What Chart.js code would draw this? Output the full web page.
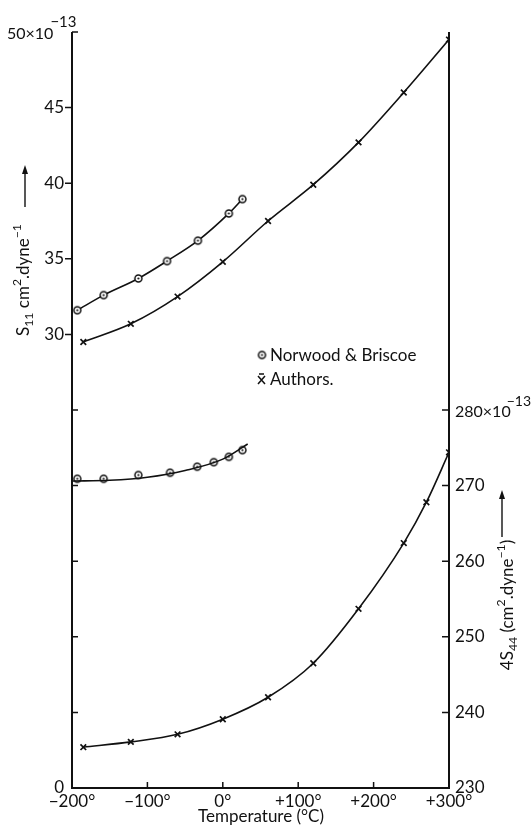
<!DOCTYPE html>
<html>
<head>
<meta charset="utf-8">
<script src="https://cdn.jsdelivr.net/npm/chart.js@4/dist/chart.umd.min.js"></script>
<style>
  html, body { margin: 0; background: #fff; }
</style>
</head>
<body>
<canvas id="chart" width="531" height="833"></canvas>
<script>
// readings
const nbS11Temp = [-193, -158, -112, -74, -33, 8, 26];
const nbS11Val  = [31.6, 32.6, 33.7, 34.85, 36.2, 38.0, 38.95];
const auS11Temp = [-185, -122, -60, 0, 60, 120, 180, 240, 300];
const auS11Val  = [29.5, 30.7, 32.5, 34.8, 37.5, 39.9, 42.7, 46.0, 49.5];
const nbS44Temp = [-193, -158, -112, -70, -34, -12, 8, 26];
const nbS44Val  = [270.9, 270.9, 271.4, 271.7, 272.5, 273.1, 273.8, 274.7];
const nbS44CurveTemp = [-200, -150, -100, -50, 0, 33];
const nbS44CurveVal  = [270.6, 270.7, 271.1, 272.0, 273.5, 275.5];
const auS44Temp = [-185, -122, -60, 0, 60, 120, 180, 240, 270, 300];
const auS44Val  = [235.4, 236.1, 237.1, 239.1, 242.0, 246.5, 253.7, 262.4, 267.8, 274.4];

const xTicks = [-200, -100, 0, 100, 200, 300];
const xTickLabels = ['−200°', '−100°', '0°', '+100°', '+200°', '+300°'];
const s11Labels = [0, 30, 35, 40, 45];
const s44Labels = [230, 240, 250, 260, 270];

const FONT = 'Lato, "Open Sans", sans-serif';
const INK = '#111';

function pts(xs, ys) { return xs.map((x, i) => ({ x: x, y: ys[i] })); }

// dotted circle marker
function dotCircle() {
  const c = document.createElement('canvas');
  c.width = c.height = 11;
  const g = c.getContext('2d');
  g.strokeStyle = INK; g.lineWidth = 1.5; g.fillStyle = '#fff';
  g.beginPath(); g.arc(5.5, 5.5, 3.5, 0, Math.PI * 2); g.fill(); g.stroke();
  g.fillStyle = INK;
  g.beginPath(); g.arc(5.5, 5.5, 1.1, 0, Math.PI * 2); g.fill();
  return c;
}
const circ = dotCircle();

// text with sub/superscripts, drawn left to right from x
function rich(ctx, parts, x, y, size, measureOnly) {
  let w = 0;
  parts.forEach(p => {
    const s = p.s ? size * 0.72 : size;
    ctx.font = s + 'px ' + FONT;
    const dy = p.s === 'sub' ? size * 0.28 : (p.s === 'sup' ? -size * 0.38 : 0);
    if (!measureOnly) ctx.fillText(p.t, x + w, y + dy);
    w += ctx.measureText(p.t).width;
  });
  return w;
}

function arrowUp(ctx, x, y0, y1) {
  ctx.beginPath(); ctx.moveTo(x, y0); ctx.lineTo(x, y1 + 4); ctx.stroke();
  ctx.beginPath(); ctx.moveTo(x, y1); ctx.lineTo(x - 3, y1 + 9); ctx.lineTo(x + 3, y1 + 9); ctx.closePath(); ctx.fill();
}

const decor = {
  id: 'decor',
  afterDraw(chart) {
    const ctx = chart.ctx;
    const a = chart.chartArea;
    const sx = chart.scales.x, sy = chart.scales.y, sy2 = chart.scales.y2;
    ctx.save();
    ctx.strokeStyle = INK; ctx.fillStyle = INK;
    // axes
    ctx.lineWidth = 2;
    ctx.beginPath();
    ctx.moveTo(a.left, a.top); ctx.lineTo(a.left, a.bottom); ctx.lineTo(a.right, a.bottom); ctx.lineTo(a.right, a.top);
    ctx.stroke();
    // tick marks
    ctx.lineWidth = 1.5;
    ctx.beginPath();
    for (let v = 5; v <= 50; v += 5) {
      const y = sy.getPixelForValue(v);
      if (s11Labels.includes(v)) { ctx.moveTo(a.left - 7, y); ctx.lineTo(a.left, y); }
      else { ctx.moveTo(a.left, y); ctx.lineTo(a.left + 6, y); }
    }
    for (let v = 240; v <= 280; v += 10) {
      const y = sy2.getPixelForValue(v);
      ctx.moveTo(a.right - 7, y); ctx.lineTo(a.right, y);
    }
    [-100, 0, 100, 200].forEach(v => {
      const x = sx.getPixelForValue(v);
      ctx.moveTo(x, a.bottom); ctx.lineTo(x, a.bottom - 6);
    });
    ctx.stroke();

    ctx.textBaseline = 'middle';
    ctx.textAlign = 'left';
    // top labels with exponent
    let w = rich(ctx, [{ t: '50×10' }], 7, sy.getPixelForValue(50) + 2, 16);
    rich(ctx, [{ t: '−13' }], 7 + w - 3, sy.getPixelForValue(50) - 10, 15);
    w = rich(ctx, [{ t: '280×10' }], a.right + 6, sy2.getPixelForValue(280) + 2, 16);
    rich(ctx, [{ t: '−13' }], a.right + 6 + w - 4, sy2.getPixelForValue(280) - 9, 14);

    // left axis title
    const leftParts = [{ t: 'S' }, { t: '11', s: 'sub' }, { t: ' cm' }, { t: '2', s: 'sup' }, { t: '.dyne' }, { t: '−1', s: 'sup' }];
    ctx.save();
    ctx.translate(24, 280); ctx.rotate(-Math.PI / 2);
    w = rich(ctx, leftParts, 0, 0, 17, true);
    rich(ctx, leftParts, -w / 2, 0, 17);
    ctx.restore();
    ctx.lineWidth = 1.4;
    arrowUp(ctx, 25, 207, 165);

    // right axis title
    const rightParts = [{ t: '4S' }, { t: '44', s: 'sub' }, { t: ' (cm' }, { t: '2', s: 'sup' }, { t: '.dyne' }, { t: '−1', s: 'sup' }, { t: ')' }];
    ctx.save();
    ctx.translate(508, 605); ctx.rotate(-Math.PI / 2);
    w = rich(ctx, rightParts, 0, 0, 17, true);
    rich(ctx, rightParts, -w / 2, 0, 17);
    ctx.restore();
    arrowUp(ctx, 502, 537, 490);

    // x title
    ctx.textAlign = 'center';
    ctx.font = '17px ' + FONT;
    ctx.fillText('Temperature (°C)', 261, 817);

    // legend
    ctx.textAlign = 'left';
    ctx.drawImage(circ, 262 - 5.5, 355 - 5.5);
    ctx.font = '17px ' + FONT;
    ctx.fillText('Norwood & Briscoe', 270, 356);
    ctx.lineWidth = 1.5;
    ctx.beginPath();
    ctx.moveTo(258, 376); ctx.lineTo(265, 384);
    ctx.moveTo(265, 376); ctx.lineTo(258, 384);
    ctx.moveTo(259, 374); ctx.lineTo(264, 374);
    ctx.stroke();
    ctx.fillText('Authors.', 270, 380);
    ctx.restore();
  }
};

const lineBase = {
  showLine: true,
  borderColor: INK,
  borderWidth: 1.6,
  cubicInterpolationMode: 'monotone',
  fill: false
};

const tickFont = { family: FONT, size: 17 };

new Chart(document.getElementById('chart'), {
  type: 'scatter',
  data: {
    datasets: [
      Object.assign({}, lineBase, {
        label: 'Norwood & Briscoe S11',
        data: pts(nbS11Temp, nbS11Val),
        yAxisID: 'y',
        pointStyle: circ, pointRadius: 4
      }),
      Object.assign({}, lineBase, {
        label: 'Authors S11',
        data: pts(auS11Temp, auS11Val),
        yAxisID: 'y',
        pointStyle: 'crossRot', pointRadius: 4, pointBorderColor: INK, pointBorderWidth: 1.7
      }),
      Object.assign({}, lineBase, {
        label: 'Norwood & Briscoe 4S44 curve',
        data: pts(nbS44CurveTemp, nbS44CurveVal),
        yAxisID: 'y2',
        pointRadius: 0
      }),
      {
        label: 'Norwood & Briscoe 4S44',
        data: pts(nbS44Temp, nbS44Val),
        yAxisID: 'y2',
        showLine: false,
        pointStyle: circ, pointRadius: 4
      },
      Object.assign({}, lineBase, {
        label: 'Authors 4S44',
        data: pts(auS44Temp, auS44Val),
        yAxisID: 'y2',
        pointStyle: 'crossRot', pointRadius: 4, pointBorderColor: INK, pointBorderWidth: 1.7
      })
    ]
  },
  options: {
    responsive: false,
    animation: false,
    devicePixelRatio: 1,
    layout: { padding: { top: 32, left: 0, right: 0, bottom: 0 } },
    plugins: { legend: { display: false }, tooltip: { enabled: false } },
    elements: { point: { borderColor: INK, backgroundColor: '#fff' } },
    scales: {
      x: {
        type: 'linear', min: -200, max: 300,
        grid: { display: false, drawTicks: false }, border: { display: false },
        afterBuildTicks: s => { s.ticks = xTicks.map(v => ({ value: v })); },
        afterFit: s => { s.height = 45; },
        ticks: {
          color: INK, padding: 3, maxRotation: 0, font: tickFont,
          callback: v => xTickLabels[xTicks.indexOf(v)]
        }
      },
      y: {
        position: 'left', min: 0, max: 50,
        grid: { display: false, drawTicks: false }, border: { display: false },
        afterBuildTicks: s => { s.ticks = s11Labels.map(v => ({ value: v })); },
        afterFit: s => { s.width = 72; },
        ticks: { color: INK, padding: 8, font: tickFont }
      },
      y2: {
        position: 'right', min: 230, max: 330,
        grid: { display: false, drawTicks: false }, border: { display: false },
        afterBuildTicks: s => { s.ticks = s44Labels.map(v => ({ value: v })); },
        afterFit: s => { s.width = 82; },
        ticks: { color: INK, padding: 6, font: tickFont }
      }
    }
  },
  plugins: [decor]
});
</script>
</body>
</html>
